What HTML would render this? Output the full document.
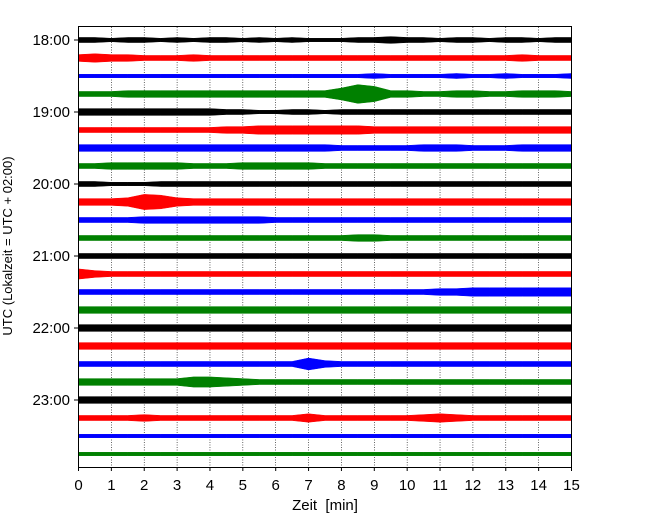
<!DOCTYPE html>
<html><head><meta charset="utf-8"><style>
body{margin:0;background:#fff;}
svg text{font-family:"Liberation Sans","DejaVu Sans",sans-serif;}
</style></head><body>
<svg id="chart" width="650" height="520" xmlns="http://www.w3.org/2000/svg">
<rect x="0" y="0" width="650" height="520" fill="#fff"/>
<g id="grid"></g>
<g id="traces"></g>
<rect x="78.5" y="26.5" width="493" height="441" fill="none" stroke="#000" stroke-width="1"/>
<g id="axes"></g>
<text x="325" y="510" font-size="15" text-anchor="middle" style="white-space:pre">Zeit  [min]</text>
<text transform="translate(12,246) rotate(-90)" font-size="13" text-anchor="middle">UTC (Lokalzeit = UTC + 02:00)</text>
</svg>
<script>
const xTicks=[0,1,2,3,4,5,6,7,8,9,10,11,12,13,14,15];
const rowLabels=["18:00","","","","19:00","","","","20:00","","","","21:00","","","","22:00","","","","23:00","","",""];
const colors=["#000","#f00","#00f","#008000"];
// half-amplitude envelope per row, sampled every 0.5 min (31 samples, 0..15 min)
const env0=[3,3,2,3,3,2,3,2,3,3,2,3,2,3,2,2,2,3,3,4,3,3,2,3,3,2,3,3,2,3,3];
const env1=[4,5,4,4,3,3,3,4,3,3,3,3,3,3,3,3,3,3,3,3,3,3,3,3,3,3,3,4,3,3,3];
const env2=[2,2,2,2,2,2,2,2,2,2,2,2,2,2,2,2,2,2,3,2,2,2,2,3,2,2,3,2,2,2,3];
const env3=[3,3,3,4,4,4,4,4,4,4,4,4,4,4,4,4,7,11,9,4,4,3,3,4,4,3,3,4,4,4,3];
const env4=[4,4,4,4,4,4,4,4,4,3,3,2,2,3,3,2,3,3,3,3,3,3,3,3,3,3,3,3,3,3,3];
const env5=[3,3,3,3,3,3,3,3,3,4,4,5,5,5,5,5,5,5,4,4,4,4,4,4,4,4,4,4,4,4,4];
const env6=[4,4,4,4,4,4,4,4,4,4,4,4,4,4,4,4,3,3,3,3,3,4,4,4,3,3,3,4,4,4,4];
const env7=[3,3,4,4,4,4,4,3,3,3,4,4,4,4,4,3,3,3,3,3,3,3,3,3,3,3,3,3,3,3,3];
const env8=[3,3,2,2,2,3,3,3,3,3,3,3,3,3,3,3,3,3,3,3,3,3,3,3,3,3,3,3,3,3,3];
const env9=[4,4,4,5,9,8,5,4,4,4,4,4,4,4,4,4,4,4,4,4,4,4,4,4,4,4,4,4,4,4,4];
const env10=[3,3,3,3,4,4,4,4,4,4,4,4,3,3,3,3,3,3,3,3,3,3,3,3,3,3,3,3,3,3,3];
const env11=[3,3,3,3,3,3,3,3,3,3,3,3,3,3,3,3,3,4,4,3,3,3,3,3,3,3,3,3,3,3,3];
const env12=[3,3,3,3,3,3,3,3,3,3,3,3,3,3,3,3,3,3,3,3,3,3,3,3,3,3,3,3,3,3,3];
const env13=[6,4,3,3,3,3,3,3,3,3,3,3,3,3,3,3,3,3,3,3,3,3,3,3,3,3,3,3,3,3,3];
const env14=[3,3,3,3,3,3,3,3,3,3,3,3,3,3,3,3,3,3,3,3,3,3,4,4,5,5,5,5,5,5,5];
const env15=[4,4,4,4,4,4,4,4,4,4,4,4,4,4,4,4,4,4,4,4,4,4,4,4,4,4,4,4,4,4,4];
const env16=[4,4,4,4,4,4,4,4,4,4,4,4,4,4,4,4,4,4,4,4,4,4,4,4,4,4,4,4,4,4,4];
const env17=[4,4,4,4,4,4,4,4,4,4,4,4,4,4,4,4,4,4,4,4,4,4,4,4,4,4,4,4,4,4,4];
const env18=[3,3,3,3,3,3,3,3,3,3,3,3,3,3,7,4,3,3,3,3,3,3,3,3,3,3,3,3,3,3,3];
const env19=[4,4,4,4,4,4,4,6,6,5,4,3,3,3,3,3,3,3,3,3,3,3,3,3,3,3,3,3,3,3,3];
const env20=[4,4,4,4,4,4,4,4,4,4,4,4,4,4,4,4,4,4,4,4,4,4,4,4,4,4,4,4,4,4,4];
const env21=[3,3,3,3,4,3,3,3,3,3,3,3,3,3,5,3,3,3,3,3,3,4,5,4,3,3,3,3,3,3,3];
const env22=[2,2,2,2,2,2,2,2,2,2,2,2,2,2,2,2,2,2,2,2,2,2,2,2,2,2,2,2,2,2,2];
const env23=[2,2,2,2,2,2,2,2,2,2,2,2,2,2,2,2,2,2,2,2,2,2,2,2,2,2,2,2,2,2,2];
const envs=[env0,env1,env2,env3,env4,env5,env6,env7,env8,env9,env10,env11,env12,env13,env14,env15,env16,env17,env18,env19,env20,env21,env22,env23];

const NS="http://www.w3.org/2000/svg";
const X0=78.5,X1=571.5,Y0=40,DY=18;
const xScale=m=>X0+(m/15)*(X1-X0);
const yRow=i=>Y0+i*DY;
const grid=document.getElementById('grid'),axes=document.getElementById('axes'),tr=document.getElementById('traces');
xTicks.forEach(t=>{
  const x=xScale(t);
  if(t>0&&t<15){
    const g=document.createElementNS(NS,'line');
    
    
    g.setAttribute('x1',x);g.setAttribute('x2',x);g.setAttribute('y1',27);g.setAttribute('y2',467);
    g.setAttribute('stroke','#000');g.setAttribute('stroke-width','0.6');g.setAttribute('stroke-dasharray','1,1.5');
    grid.appendChild(g);
  }
  const tk=document.createElementNS(NS,'line');
  
  
  tk.setAttribute('x1',x);tk.setAttribute('x2',x);tk.setAttribute('y1',467);tk.setAttribute('y2',471);
  tk.setAttribute('stroke','#000');axes.appendChild(tk);
  const tl=document.createElementNS(NS,'text');
  
  
  tl.setAttribute('x',x);tl.setAttribute('y',490);tl.setAttribute('font-size','15');tl.setAttribute('text-anchor','middle');
  tl.textContent=t;axes.appendChild(tl);
});
rowLabels.forEach((lab,i)=>{
  if(!lab)return;
  const y=yRow(i);
  const tk=document.createElementNS(NS,'line');
  
  
  tk.setAttribute('x1',74);tk.setAttribute('x2',78);tk.setAttribute('y1',y);tk.setAttribute('y2',y);
  tk.setAttribute('stroke','#000');axes.appendChild(tk);
  const tl=document.createElementNS(NS,'text');
  
  
  tl.setAttribute('x',70);tl.setAttribute('y',y+5);tl.setAttribute('font-size','15');tl.setAttribute('text-anchor','end');
  tl.textContent=lab;axes.appendChild(tl);
});
envs.forEach((e,i)=>{
  const y=yRow(i);
  let top=[],bot=[];
  e.forEach((a,k)=>{const x=xScale(k*0.5);top.push(x+','+(y-a*0.85));bot.unshift(x+','+(y+a*0.85));});
  const p=document.createElementNS(NS,'polygon');
  
  
  p.setAttribute('points',top.concat(bot).join(' '));
  p.setAttribute('fill',colors[i%4]);p.setAttribute('stroke',colors[i%4]);p.setAttribute('stroke-width','0.5');
  tr.appendChild(p);
});
</script>
</body></html>
